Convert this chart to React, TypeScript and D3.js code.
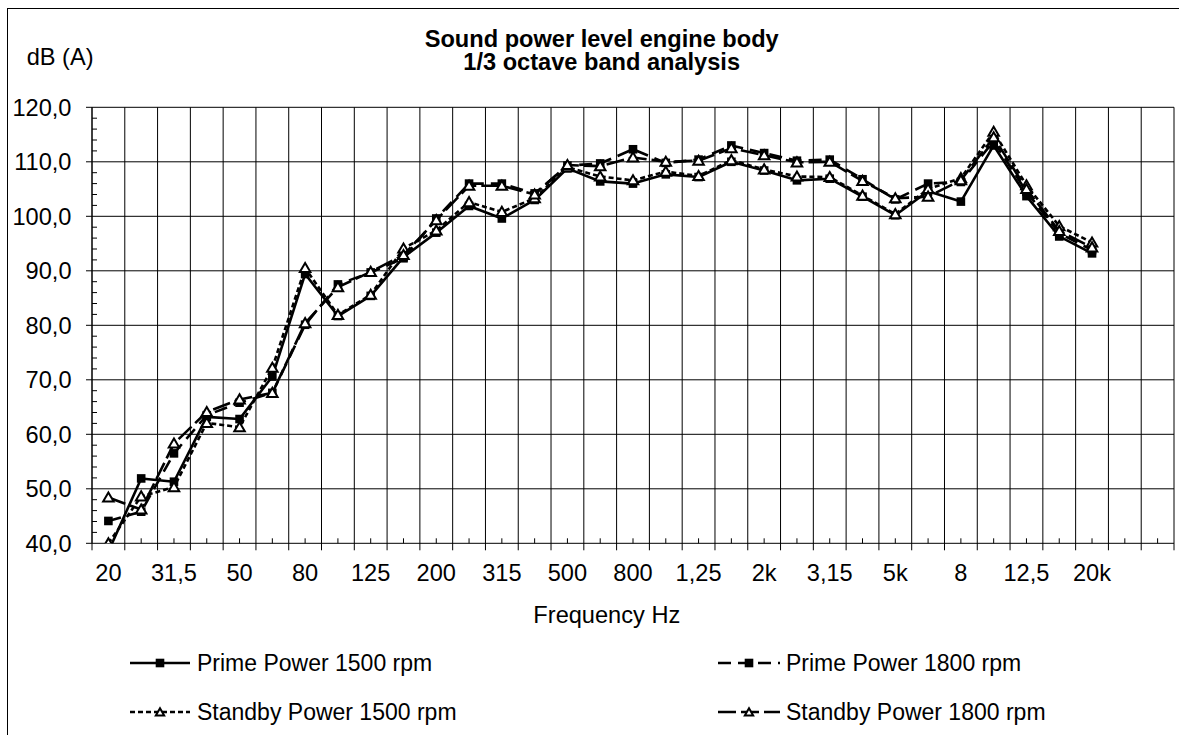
import React from "react";
import * as d3 from "d3";

const bands = ["20","25","31,5","40","50","63","80","100","125","160","200","250","315","400","500","630","800","1k","1,25","1,6","2k","2,5","3,15","4k","5k","6,3","8","10","12,5","16","20k","25k","31,5k"];
const tickLabels = ["20","31,5","50","80","125","200","315","500","800","1,25","2k","3,15","5k","8","12,5","20k"];
const yTicks = [40, 50, 60, 70, 80, 90, 100, 110, 120];

const prime1500 = [38.5, 51.9, 51.3, 63.2, 62.8, 70.6, 89.4, 81.7, 85.4, 92.5, 97.0, 101.9, 99.6, 103.0, 108.8, 106.4, 106.0, 107.7, 107.2, 110.0, 108.4, 106.6, 106.9, 103.6, 100.2, 104.6, 102.7, 113.0, 103.7, 96.3, 93.2];
const prime1800 = [44.1, 45.8, 56.5, 63.5, 65.8, 67.6, 80.1, 87.5, 89.7, 92.3, 99.6, 106.0, 106.0, 104.2, 109.3, 109.7, 112.3, 109.8, 110.4, 113.0, 111.6, 110.2, 110.4, 106.8, 103.1, 106.0, 106.3, 113.8, 104.5, 96.9, 93.8];
const standby1500 = [40.0, 48.6, 50.3, 62.1, 61.3, 72.2, 90.5, 81.9, 85.6, 94.1, 97.4, 102.6, 100.8, 103.3, 109.0, 107.3, 106.6, 108.2, 107.4, 110.3, 108.6, 107.3, 107.2, 103.8, 100.4, 105.0, 107.0, 115.5, 105.7, 98.2, 95.2];
const standby1800 = [48.4, 46.2, 58.3, 64.1, 66.4, 67.6, 80.4, 87.0, 89.8, 92.9, 99.3, 105.6, 105.6, 104.0, 109.4, 109.2, 110.8, 110.0, 110.2, 112.5, 111.2, 109.9, 110.0, 106.5, 103.3, 103.6, 106.6, 114.5, 105.0, 97.3, 94.3];

const seriesNames = ["Prime Power 1500 rpm", "Prime Power 1800 rpm", "Standby Power 1500 rpm", "Standby Power 1800 rpm"];

const FONT = "'Liberation Sans', Arial, Helvetica, sans-serif";

export default function App() {
  const W = 1179, H = 735;
  const left = 92, right = 1174, top = 107.3, bottom = 543.3;
  const x = d3.scaleBand<string>().domain(bands).range([left, right]).padding(0);
  const y = d3.scaleLinear().domain([40, 120]).range([bottom, top]);
  const cx = (i: number) => (x(bands[i]) as number) + x.bandwidth() / 2;

  const series = [
    { name: seriesNames[0], values: prime1500, dash: "none", marker: "square" },
    { name: seriesNames[1], values: prime1800, dash: "13,7", marker: "square" },
    { name: seriesNames[2], values: standby1500, dash: "5,3", marker: "triangle" },
    { name: seriesNames[3], values: standby1800, dash: "18,5", marker: "triangle" },
  ];

  const line = d3.line<number>().x((_, i) => cx(i)).y((v) => y(v));

  const minorY = d3.range(40, 120.01, 2).filter((v) => v % 10 !== 0);

  const marker = (type: string, px: number, py: number, key: string, small = false) =>
    type === "square" ? (
      <rect key={key} x={px - 4.3} y={py - 4.3} width={8.6} height={8.6} fill="#000" />
    ) : (
      <path key={key} d={d3.symbol(d3.symbolTriangle, small ? 30 : 48)() as string} transform={`translate(${px},${py + 1})`} fill="#fff" stroke="#000" strokeWidth={2} />
    );

  const legendPos = [
    { lx1: 130, lx2: 190, tx: 197, cy: 663 },
    { lx1: 718, lx2: 780, tx: 786, cy: 663 },
    { lx1: 130, lx2: 190, tx: 197, cy: 712 },
    { lx1: 718, lx2: 780, tx: 786, cy: 712 },
  ];

  const fs = 23.6;

  return (
    <svg width={W} height={H} style={{ position: "absolute", left: 0, top: 0, background: "#fff" }} fontFamily={FONT}>
      <rect x={0} y={0} width={W} height={H} fill="#fff" />
      <rect x={7.5} y={8.5} width={1300} height={900} fill="none" stroke="#000" strokeWidth={1} />
      <defs>
        <clipPath id="plotclip">
          <rect x={left} y={top - 10} width={right - left} height={bottom - top + 10} />
        </clipPath>
      </defs>

      {/* title */}
      <text x={601.7} y={46.5} textAnchor="middle" fontSize={23.6} fontWeight="bold">Sound power level engine body</text>
      <text x={601.7} y={70} textAnchor="middle" fontSize={23.6} fontWeight="bold">1/3 octave band analysis</text>
      <text x={26.7} y={64.5} fontSize={fs}>dB (A)</text>

      {/* grid */}
      {yTicks.map((t) => (
        <line key={"hg" + t} x1={left} x2={right} y1={y(t)} y2={y(t)} stroke="#000" strokeWidth={1} />
      ))}
      {d3.range(bands.length + 1).map((i) => {
        const gx = i < bands.length ? (x(bands[i]) as number) : right;
        return <line key={"vg" + i} x1={gx} x2={gx} y1={top} y2={bottom + 7} stroke="#000" strokeWidth={1} />;
      })}
      {/* y axis */}
      <line x1={left} x2={left} y1={top} y2={bottom} stroke="#000" strokeWidth={1} />
      {yTicks.map((t) => (
        <line key={"yt" + t} x1={left - 6} x2={left} y1={y(t)} y2={y(t)} stroke="#000" strokeWidth={1} />
      ))}
      {minorY.map((t) => (
        <line key={"ym" + t} x1={left} x2={left + 5} y1={y(t)} y2={y(t)} stroke="#000" strokeWidth={1} />
      ))}
      {yTicks.map((t) => (
        <text key={"yl" + t} x={71.5} y={y(t)} dy="0.35em" textAnchor="end" fontSize={fs}>
          {d3.format(".1f")(t).replace(".", ",")}
        </text>
      ))}
      {/* x axis minor ticks */}
      {bands.map((b, i) => (
        <line key={"xm" + i} x1={cx(i)} x2={cx(i)} y1={bottom - 5} y2={bottom} stroke="#000" strokeWidth={1} />
      ))}
      {tickLabels.map((lab, k) => (
        <text key={"xl" + k} x={cx(k * 2)} y={580.7} textAnchor="middle" fontSize={fs}>{lab}</text>
      ))}
      <text x={606.8} y={623.3} textAnchor="middle" fontSize={fs}>Frequency Hz</text>

      {/* series */}
      <g clipPath="url(#plotclip)">
        {series.map((s, si) => (
          <g key={"s" + si}>
            <path d={line(s.values) as string} fill="none" stroke="#000" strokeWidth={2.6} strokeDasharray={s.dash} strokeLinejoin="round" />
            {s.values.map((v, i) => marker(s.marker, cx(i), y(v), "m" + si + "_" + i))}
          </g>
        ))}
      </g>

      {/* legend */}
      {series.map((s, si) => {
        const p = legendPos[si];
        return (
          <g key={"lg" + si}>
            <line x1={p.lx1} x2={p.lx2} y1={p.cy} y2={p.cy} stroke="#000" strokeWidth={2.5} strokeDasharray={s.dash} />
            {marker(s.marker, (p.lx1 + p.lx2) / 2, p.cy, "lm" + si, true)}
            <text x={p.tx} y={p.cy} dy="0.35em" fontSize={23}>{s.name}</text>
          </g>
        );
      })}
    </svg>
  );
}
